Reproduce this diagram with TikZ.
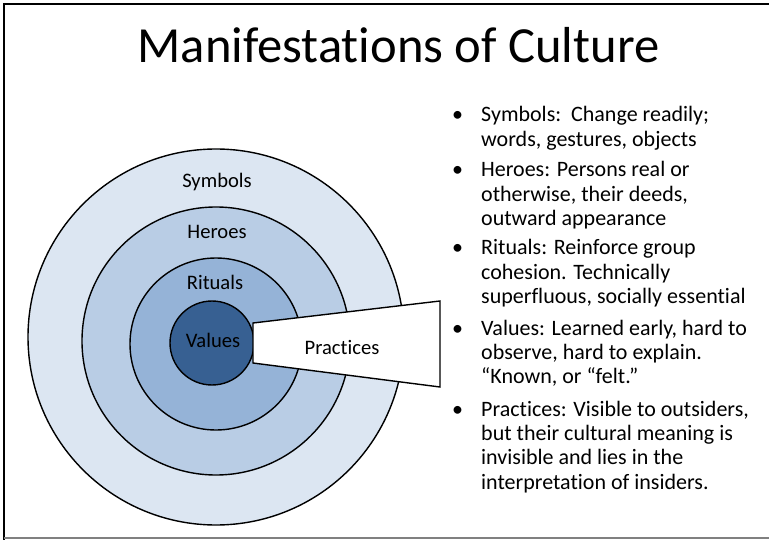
\documentclass[tikz,border=0pt]{standalone}
\usepackage{fontspec}
\setmainfont{Carlito}[Ligatures={NoCommon}]
\definecolor{ringone}{HTML}{DCE6F2}
\definecolor{ringtwo}{HTML}{B9CDE5}
\definecolor{ringthree}{HTML}{95B3D7}
\definecolor{corecol}{HTML}{376092}
\begin{document}
\begin{tikzpicture}[x=1pt,y=-1pt,
  ring/.style={circle, draw=black, line width=1.4pt, inner sep=0pt},
  lbl/.style={font=\fontsize{20.6}{24}\selectfont, inner sep=0pt},
  bul/.style={anchor=base west, inner sep=0pt, font=\fontsize{22}{24.4}\selectfont}]
\useasboundingbox (0,0) rectangle (769,540);
\draw[line width=2pt] (4,540) -- (4,4) -- (769,4);
\draw[gray, line width=2pt] (4,538) -- (769,538);
% title
\node[anchor=base, inner sep=0pt, font=\fontsize{50.6}{56}\selectfont] (title) at (398.5,63) {Manifestations of Culture};
% onion
\node[ring, fill=ringone, minimum size=376pt] (symbols) at (216,337) {};
\node[ring, fill=ringtwo, minimum size=268pt] (heroes) at (216,341) {};
\node[ring, fill=ringthree, minimum size=172pt] (rituals) at (216,344) {};
\node[ring, fill=corecol, minimum size=84pt] (values) at (212,343) {};
\node[lbl] (tsym) at (217,182) {Symbols};
\node[lbl] (ther) at (217,232) {Heroes};
\node[lbl] (trit) at (215,282) {Rituals};
\node[lbl] (tval) at (213,340) {Values};
% practices
\coordinate (p1) at (253,323);
\coordinate (p2) at (440,301);
\coordinate (p3) at (440,387);
\coordinate (p4) at (253,363);
\draw[fill=white, line width=1.4pt, line join=miter] (p1) -- (p2) -- (p3) -- (p4) -- cycle;
\node[lbl] (tprac) at (342,347) {Practices};
% bullets
\foreach \y [count=\i] in {121.7,176.7,255,335,416} {
  \node[bul] (dot\i) at (452,\y) {•};
}
\node[bul] (b1) at (481,121.7) {\begin{tabular}[t]{@{}l@{}}Symbols:\ \ Change readily;\\ words, gestures, objects\end{tabular}};
\node[bul] (b2) at (481,176.7) {\begin{tabular}[t]{@{}l@{}}Heroes: Persons real or\\ otherwise, their deeds,\\ outward appearance\end{tabular}};
\node[bul] (b3) at (481,255) {\begin{tabular}[t]{@{}l@{}}Rituals: Reinforce group\\ cohesion. Technically\\ superfluous, socially essential\end{tabular}};
\node[bul] (b4) at (481,335) {\begin{tabular}[t]{@{}l@{}}Values: Learned early, hard to\\ observe, hard to explain.\\ “Known, or “felt.”\end{tabular}};
\node[bul] (b5) at (481,416) {\begin{tabular}[t]{@{}l@{}}Practices: Visible to outsiders,\\ but their cultural meaning is\\ invisible and lies in the\\ interpretation of insiders.\end{tabular}};
\end{tikzpicture}
\end{document}
